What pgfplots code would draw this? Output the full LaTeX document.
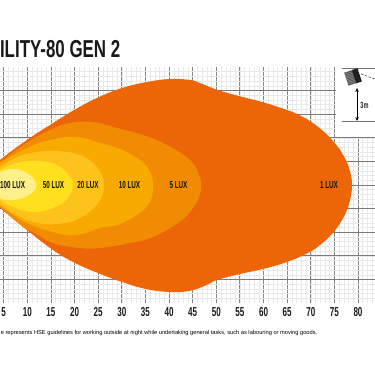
\documentclass[border=0pt]{standalone}
\usepackage{fontspec}
\setmainfont{Liberation Sans}
\newfontfamily\cond[FakeStretch=0.62]{Liberation Sans}
\newfontfamily\condm[FakeStretch=0.69]{Liberation Sans}
\usepackage{pgfplots}
\usetikzlibrary{arrows.meta}
\pgfplotsset{compat=1.18}
\definecolor{luxa}{HTML}{EC6608}
\definecolor{luxb}{HTML}{F18B04}
\definecolor{luxc}{HTML}{F9AA00}
\definecolor{luxd}{HTML}{FDC21C}
\definecolor{luxe}{HTML}{FFDF1E}
\definecolor{luxf}{HTML}{FFF08C}
\begin{document}
\begin{tikzpicture}[x=1pt,y=1pt]
\useasboundingbox (0,-72) rectangle (375,303);
\begin{axis}[
  at={(0pt,0pt)},anchor=south west,
  scale only axis,width=375pt,height=236pt,
  xmin=4.217,xmax=83.6,ymin=-24.98,ymax=24.98,
  axis line style={draw=none},
  tick style={draw=none},
  xtick={5,10,15,20,25,30,35,40,45,50,55,60,65,70,75,80},
  xticklabels={5,10,15,20,25,30,35,40,45,50,55,60,65,70,75,80},
  ytick={-20,-15,-10,-5,0,5,10,15,20},
  yticklabels={},
  minor xtick={5,6,...,83},
  minor ytick={-24,-23,...,24},
  xmajorgrids,ymajorgrids,xminorgrids,yminorgrids,
  major x grid style={draw=black!48,line width=0.85pt},
  major y grid style={draw=black!52,line width=0.75pt},
  minor grid style={draw=black!9,line width=0.45pt},
  xticklabel style={font=\cond\bfseries\fontsize{13}{13}\selectfont,text=black!90,yshift=-1pt},
]
\addplot[draw=none,fill=luxa,smooth,tension=0.7] coordinates {
(2.95,3.6)(4.22,5.29)(9.93,9.53)(14.80,12.70)(20.09,15.98)(24.96,18.52)(30.04,20.53)(35.34,21.80)(40.20,22.44)(44.44,22.23)(46.56,21.59)(49.73,20.32)(53.97,19.05)(59.68,17.57)(64.97,15.88)(67.60,14.80)(70.27,13.25)(72.60,11.43)(74.71,9.32)(76.62,6.77)(78.10,3.60)(78.73,0)(78.10,-4.02)(76.62,-7.41)(74.50,-10.37)(71.96,-12.70)(69.42,-14.39)(64.97,-16.30)(59.89,-17.78)(55.02,-18.84)(50.15,-20.11)(47.90,-21.20)(44.44,-22.40)(40.20,-22.65)(35.12,-22.02)(30.04,-20.53)(24.96,-18.63)(20.09,-16.51)(15.44,-13.76)(9.93,-9.53)(4.22,-4.87)(2.95,-4.02)
} --cycle;
\addplot[draw=none,fill=luxb,smooth,tension=0.7] coordinates {
(2.95,4.23)(4.22,4.87)(9.09,8.47)(14.80,11.64)(19.04,13.12)(23.90,13.34)(28.98,12.07)(34.49,10.58)(39.57,8.47)(44.44,5.29)(46.34,2.12)(46.77,0)(46.34,-2.54)(44.44,-5.72)(41.90,-8.04)(36.60,-11.01)(31.74,-12.28)(25.39,-13.34)(21.15,-13.34)(15.44,-12.28)(11.20,-9.95)(9.09,-8.89)(4.22,-4.66)(2.95,-3.6)
} --cycle;
\addplot[draw=none,fill=luxc,smooth,tension=0.7] coordinates {
(2.95,4.02)(4.22,4.66)(9.93,7.83)(14.80,9.53)(20.30,10.16)(25.39,8.89)(29.62,7.62)(33.85,5.29)(35.97,2.75)(36.60,0)(35.97,-3.60)(33.22,-6.35)(28.98,-8.47)(25.39,-9.10)(20.51,-10.58)(16.28,-10.16)(9.93,-8.04)(4.22,-4.45)(2.95,-3.6)
} --cycle;
\addplot[draw=none,fill=luxd,smooth,tension=0.7] coordinates {
(2.95,3.18)(4.22,3.81)(7.82,5.93)(12.05,6.99)(16.28,7.20)(21.15,6.35)(24.75,3.81)(26.23,0)(24.96,-3.81)(21.15,-6.99)(16.28,-8.26)(11.20,-7.83)(6.97,-5.93)(4.22,-4.02)(2.95,-2.96)
} --cycle;
\addplot[draw=none,fill=luxe,smooth,tension=0.7] coordinates {
(2.95,2.54)(4.22,3.18)(7.82,4.66)(12.05,5.08)(16.28,4.23)(19.04,1.69)(19.67,0)(18.61,-2.75)(15.44,-4.87)(11.20,-5.72)(6.97,-4.66)(4.22,-3.18)(2.95,-2.33)
} --cycle;
\addplot[draw=none,fill=luxf,smooth,tension=0.7] coordinates {
(2.95,1.91)(4.22,2.75)(6.97,3.39)(9.93,2.54)(11.84,0.42)(11.20,-1.48)(8.45,-2.96)(5.70,-3.18)(4.22,-2.75)(2.95,-1.69)
} --cycle;
\end{axis}
\begin{scope}[x=1pt,y=-1pt,yshift=303pt]
% inset
\fill[white] (336,60) rectangle (376,137.3);
\draw[black!55,line width=0.8pt] (342,68.5) -- (375,68.5);
\draw[black!55,line width=0.8pt] (342,121.5) -- (375,121.5);
\draw[black!80,line width=0.5pt,dash pattern=on 2.5pt off 1.5pt] (361,74) -- (375,79);
\begin{scope}[shift={(353,77)},rotate=18]
\fill[black!45] (-7,-7) rectangle (1,7);
\foreach \yy in {-6,-4.5,...,6.5}{\draw[black!75,line width=0.5pt] (-7,\yy) -- (1,\yy);}
\fill[black!88] (1,-7) rectangle (7,7);
\end{scope}
\draw[black,line width=0.6pt,{Stealth[length=4pt,width=3.5pt]}-{Stealth[length=4pt,width=3.5pt]}] (357,88) -- (357,121);
\node[font=\cond\bfseries\fontsize{9}{9}\selectfont,text=black!85] at (364.5,105) {3m};
% lux labels
\foreach \X/\T in {12.5/100 LUX,53.5/50 LUX,88/20 LUX,129.5/10 LUX,178.5/5 LUX,329/1 LUX}{
  \node[font=\cond\bfseries\fontsize{10.2}{10.2}\selectfont,text=black!92,inner sep=0pt] at (\X,185.3) {\T};
}
% title
\node[anchor=base east,font=\condm\bfseries\fontsize{24.5}{24.5}\selectfont,text=black!90,inner sep=0pt] at (120.5,58) {ILITY-80 GEN 2};
% footer
\node[anchor=base east,font=\fontsize{5.7}{5.7}\selectfont,text=black,inner sep=0pt] at (317.5,334) {e represents HSE guidelines for working outside at night while undertaking general tasks, such as labouring or moving goods.};
\end{scope}
\end{tikzpicture}
\end{document}
